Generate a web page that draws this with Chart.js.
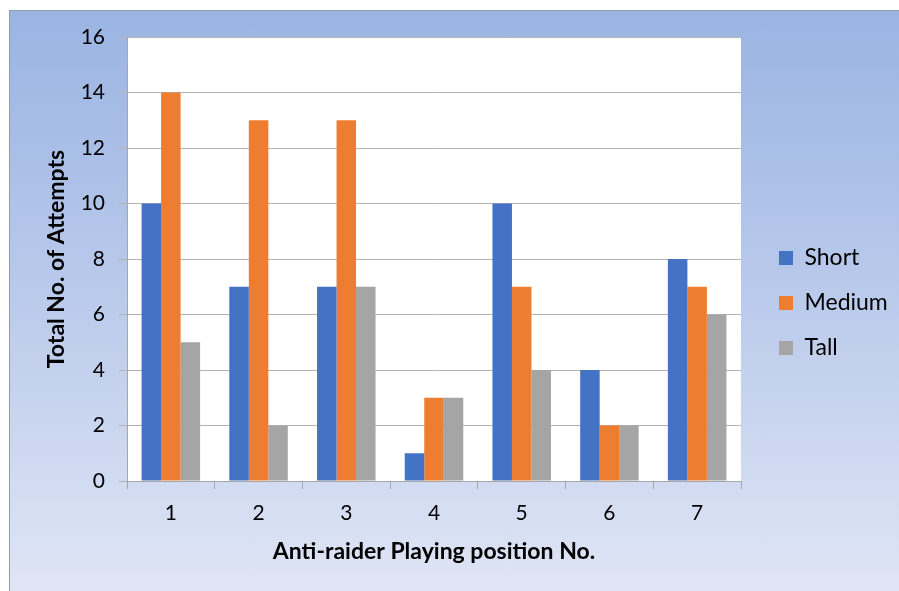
<!DOCTYPE html>
<html>
<head>
<meta charset="utf-8">
<script src="https://cdn.jsdelivr.net/npm/chart.js@4/dist/chart.umd.min.js"></script>
<style>
  html, body { margin: 0; padding: 0; background: #ffffff; }
  #wrap { position: relative; width: 899px; height: 591px; }
  #frame { position: absolute; left: 9px; top: 10px; right: 0; bottom: 0;
    background: linear-gradient(to bottom, #9ab4e2 0%, #b7c8ea 45%, #dfe5f5 100%);
    border-top: 1px solid #8f9bb0; border-left: 1px solid #8f9bb0; }
  canvas { position: absolute; left: 0; top: 0; }
</style>
</head>
<body>
<div id="wrap">
  <div id="frame"></div>
  <canvas id="c" width="899" height="591"></canvas>
</div>
<script>
const categories = ['1', '2', '3', '4', '5', '6', '7'];
const shortValues = [10, 7, 7, 1, 10, 4, 8];
const mediumValues = [14, 13, 13, 3, 7, 2, 7];
const tallValues = [5, 2, 7, 3, 4, 2, 6];
const seriesNames = ['Short', 'Medium', 'Tall'];
const yTitle = 'Total No. of Attempts';
const xTitle = 'Anti-raider Playing position No.';

const FONT = 'Lato, "Open Sans", sans-serif';
const LEGEND_WIDTH = 142;

const plotBg = {
  id: 'plotBg',
  beforeLayout(chart) {
    const lg = chart.legend;
    if (lg && !lg._fixedWidth) {
      const orig = lg.fit;
      lg.fit = function () { orig.call(this); this.width = LEGEND_WIDTH; };
      lg._fixedWidth = true;
    }
  },
  beforeDraw(chart) {
    const a = chart.chartArea, ctx = chart.ctx;
    ctx.save();
    ctx.fillStyle = '#ffffff';
    ctx.fillRect(a.left, a.top, a.right - a.left, a.bottom - a.top);
    ctx.restore();
  }
};

new Chart(document.getElementById('c'), {
  type: 'bar',
  data: {
    labels: categories,
    datasets: [
      { label: seriesNames[0], data: shortValues, backgroundColor: '#4472C4', yAxisID: 'y' },
      { label: seriesNames[1], data: mediumValues, backgroundColor: '#ED7D31', yAxisID: 'y' },
      { label: seriesNames[2], data: tallValues, backgroundColor: '#A5A5A5', yAxisID: 'y' }
    ]
  },
  options: {
    responsive: false,
    animation: false,
    devicePixelRatio: 1,
    layout: { padding: { left: 0, right: 0, top: 37, bottom: 22 } },
    datasets: { bar: { categoryPercentage: 0.667, barPercentage: 1.0 } },
    plugins: {
      legend: {
        position: 'right',
        align: 'center',
        labels: {
          font: { family: FONT, size: 23 },
          color: '#000000',
          boxWidth: 14,
          boxHeight: 14,
          padding: 22
        }
      },
      tooltip: { enabled: false }
    },
    scales: {
      x: {
        grid: { drawOnChartArea: false, drawTicks: true, tickLength: 8, color: '#a6a6a6', lineWidth: 1 },
        border: { color: '#a6a6a6', width: 1 },
        ticks: { font: { family: FONT, size: 21 }, color: '#000000', padding: 12 },
        title: { display: true, text: xTitle, font: { family: FONT, size: 23, weight: 'bold' }, color: '#000000', padding: { top: 0, bottom: 4 } },
        afterFit(s) { s.height = 88; }
      },
      y: {
        min: 0, max: 16,
        ticks: { stepSize: 2, font: { family: FONT, size: 21 }, color: '#000000', padding: 14 },
        grid: { color: '#b3b3b3', lineWidth: 1, tickLength: 8 },
        border: { color: '#a6a6a6', width: 1 },
        title: { display: true, text: yTitle, font: { family: FONT, size: 23, weight: 'bold' }, color: '#000000', padding: { top: 43, bottom: 0 } },
        afterFit(s) { s.width = 127; }
      },
      spacer: {
        position: 'right',
        display: true,
        grid: { display: false, drawTicks: false },
        border: { display: false },
        ticks: { display: false },
        afterFit(s) { s.width = 16; }
      }
    }
  },
  plugins: [plotBg]
});
</script>
</body>
</html>
